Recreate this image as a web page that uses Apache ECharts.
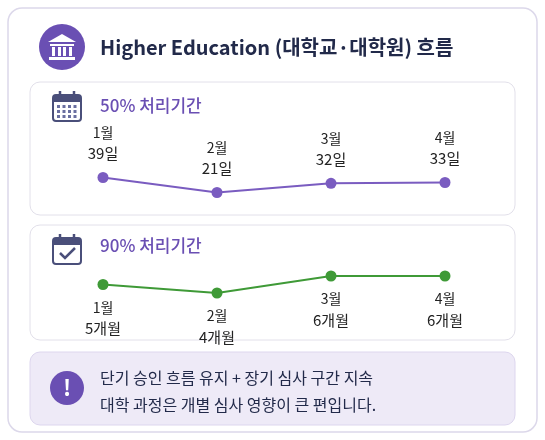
<!DOCTYPE html>
<html><head><meta charset="utf-8">
<script src="https://cdn.jsdelivr.net/npm/echarts@6/dist/echarts.min.js"></script>
<style>html,body{margin:0;padding:0;background:#fff}#c{width:545px;height:440px}</style>
</head><body><div id="c"></div>
<script>
const months = ['1월','2월','3월','4월'];
const median = [39,21,32,33];
const medianLabels = ['39일','21일','32일','33일'];
const p90 = [5,4,6,6];
const p90Labels = ['5개월','4개월','6개월','6개월'];
const title = 'Higher Education (대학교·대학원) 흐름';
const noteLines = ['단기 승인 흐름 유지 + 장기 심사 구간 지속','대학 과정은 개별 심사 영향이 큰 편입니다.'];

const F = '"Noto Sans CJK KR","Noto Sans",sans-serif';
const purple = '#6a4fb3', green = '#3f9a37', navy = '#222a4a';
const chart = echarts.init(document.getElementById('c'));

function calIcon(cx, cy, check){
  const c = [
    {type:'rect',shape:{x:cx-14,y:cy-12,width:28,height:26,r:3},style:{fill:'#fff',stroke:'#4a4f7a',lineWidth:2}},
    {type:'rect',shape:{x:cx-14,y:cy-12,width:28,height:7,r:[3,3,0,0]},style:{fill:'#4a4f7a'}},
    {type:'line',shape:{x1:cx-7,y1:cy-16,x2:cx-7,y2:cy-9},style:{stroke:'#4a4f7a',lineWidth:2.5}},
    {type:'line',shape:{x1:cx+7,y1:cy-16,x2:cx+7,y2:cy-9},style:{stroke:'#4a4f7a',lineWidth:2.5}}
  ];
  if(check){
    c.push({type:'polyline',shape:{points:[[cx-7,cy+3],[cx-2,cy+8],[cx+8,cy-2]]},style:{stroke:'#4a4f7a',lineWidth:2.5,fill:null}});
  } else {
    for(let r=0;r<3;r++)for(let k=0;k<4;k++)
      c.push({type:'rect',shape:{x:cx-10+k*5.5,y:cy-2+r*5,width:3,height:3},style:{fill:'#6a6fa0'}});
  }
  return c;
}

const graphic = [
  {type:'rect',shape:{x:8,y:8,width:529,height:424,r:14},style:{fill:'#fff',stroke:'#dcd8ea',lineWidth:1.5}},
  {type:'circle',shape:{cx:62,cy:47,r:23},style:{fill:purple}},
  {type:'polygon',shape:{points:[[62,34],[48,42],[76,42]]},style:{fill:'#fff'}},
  {type:'rect',shape:{x:50,y:44,width:24,height:2},style:{fill:'#fff'}},
  {type:'rect',shape:{x:52,y:47,width:3,height:9},style:{fill:'#fff'}},
  {type:'rect',shape:{x:58,y:47,width:3,height:9},style:{fill:'#fff'}},
  {type:'rect',shape:{x:63,y:47,width:3,height:9},style:{fill:'#fff'}},
  {type:'rect',shape:{x:69,y:47,width:3,height:9},style:{fill:'#fff'}},
  {type:'rect',shape:{x:49,y:57,width:26,height:3},style:{fill:'#fff'}},
  {type:'text',x:100,y:47,style:{text:title,font:'bold 20px '+F,fill:navy,verticalAlign:'middle'}},
  {type:'rect',shape:{x:30,y:82,width:485,height:133,r:10},style:{fill:'#fff',stroke:'#e2e0ea',lineWidth:1}},
  ...calIcon(67,107,false),
  {type:'text',x:100,y:106,style:{text:'50% 처리기간',font:'500 17px '+F,fill:purple,verticalAlign:'middle'}},
  {type:'rect',shape:{x:30,y:225,width:485,height:115,r:10},style:{fill:'#fff',stroke:'#e2e0ea',lineWidth:1}},
  ...calIcon(67,250,true),
  {type:'text',x:100,y:246,style:{text:'90% 처리기간',font:'500 17px '+F,fill:purple,verticalAlign:'middle'}},
  {type:'rect',shape:{x:30,y:352,width:485,height:73,r:10},style:{fill:'#eeeaf7',stroke:'#ddd6ee',lineWidth:1}},
  {type:'circle',shape:{cx:67,cy:388,r:17},style:{fill:purple}},
  {type:'text',x:67,y:388,style:{text:'!',font:'bold 22px '+F,fill:'#fff',align:'center',verticalAlign:'middle'}},
  {type:'text',x:100,y:378,style:{text:noteLines[0],font:'16px '+F,fill:navy,verticalAlign:'middle'}},
  {type:'text',x:100,y:405,style:{text:noteLines[1],font:'16px '+F,fill:navy,verticalAlign:'middle'}}
];

function lbl(arr){return (p)=>'{m|'+months[p.dataIndex]+'}\n{v|'+arr[p.dataIndex]+'}';}
const rich = {m:{fontFamily:F,fontSize:14,color:'#222',lineHeight:21},v:{fontFamily:F,fontSize:15,color:'#222',lineHeight:21}};

chart.setOption({
  animation:false,
  graphic:{elements:graphic},
  grid:[{left:46,width:456,top:160,height:50},{left:46,width:456,top:267.5,height:34}],
  xAxis:[{type:'category',data:months,gridIndex:0,show:false},{type:'category',data:months,gridIndex:1,show:false}],
  yAxis:[{type:'value',min:0,max:60,gridIndex:0,show:false},{type:'value',min:3,max:7,gridIndex:1,show:false}],
  series:[
    {type:'line',data:median,xAxisIndex:0,yAxisIndex:0,symbol:'circle',symbolSize:11,
     lineStyle:{color:'#7a5cc0',width:2},itemStyle:{color:'#7a5cc0'},
     label:{show:true,position:'top',distance:8,formatter:lbl(medianLabels),rich,align:'center'}},
    {type:'line',data:p90,xAxisIndex:1,yAxisIndex:1,symbol:'circle',symbolSize:11,
     lineStyle:{color:green,width:2},itemStyle:{color:green},
     label:{show:true,position:'bottom',distance:7,formatter:lbl(p90Labels),rich,align:'center'}}
  ]
});
</script></body></html>
